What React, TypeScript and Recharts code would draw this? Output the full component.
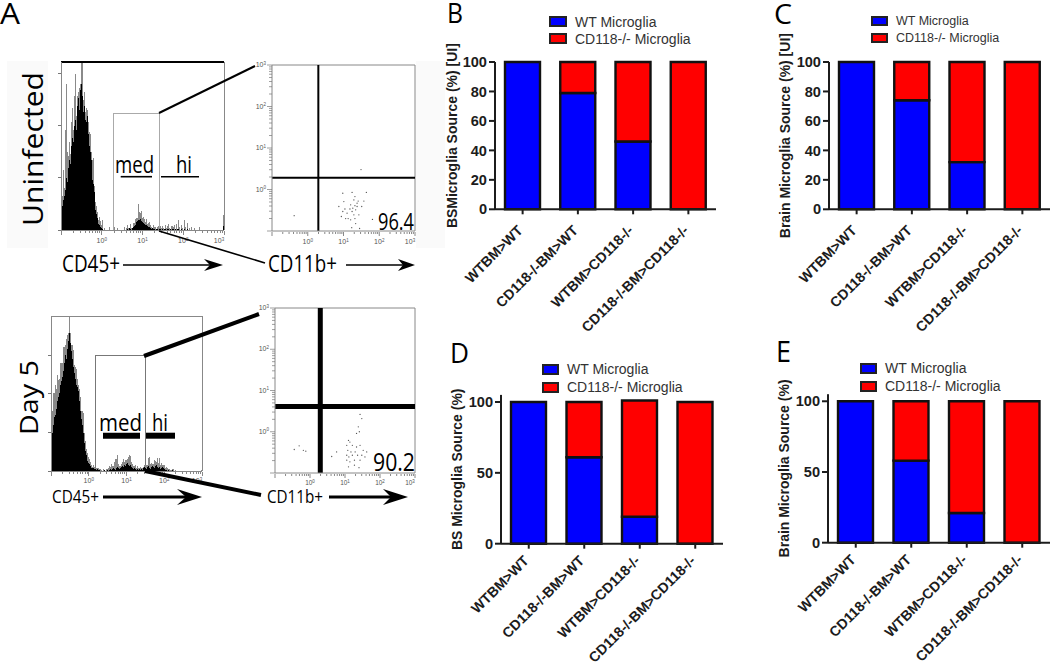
import { BarChart, Bar, ScatterChart, Scatter, XAxis, YAxis, Legend, ReferenceArea, ReferenceLine } from "recharts";

const BLUE = "#0000ff";
const RED = "#ff0000";
const INK = "#1c1c1c";
const SANS = "'Liberation Sans', Arial, sans-serif";
const HUMANIST = "'Open Sans', sans-serif";

const groups = ["WTBM>WT", "CD118-/-BM>WT", "WTBM>CD118-/-", "CD118-/-BM>CD118-/-"];

const wtB = [100, 79, 46, 0];
const koB = [0, 21, 54, 100];
const wtC = [100, 74, 32, 0];
const koC = [0, 26, 68, 100];
const wtD = [100, 61, 19, 0];
const koD = [0, 39, 82, 100];
const wtE = [100, 58, 21, 0];
const koE = [0, 42, 79, 100];

const ticks20 = [0, 20, 40, 60, 80, 100];
const ticks50 = [0, 50, 100];

// flow histograms, one value per channel
const histTopBlack = [
  0, 24, 30, 34, 40, 52, 48, 62, 70, 66,
  84, 92, 88, 104, 110, 100, 124, 132, 120, 140,
  146, 134, 118, 124, 110, 108, 114, 96, 84, 78,
  70, 50, 46, 38, 20, 16, 12, 6, 5, 3,
  2, 1, 0, 0, 0, 0, 0, 0, 0, 0,
  0, 0, 0, 0, 0, 0, 0, 0, 0, 0,
  0, 0, 0, 0, 0, 0, 1, 0, 2, 1,
  0, 2, 3, 4, 5, 8, 9, 10, 10, 11,
  9, 8, 7, 6, 5, 5, 4, 3, 3, 2,
  1, 2, 1, 1, 0, 1, 1, 0, 1, 1,
  0, 1, 0, 1, 1, 0, 1, 1, 0, 1,
  0, 1, 1, 0, 1, 0, 1, 1, 0, 0,
  1, 0, 0, 1, 0, 0, 1, 0, 0, 0,
  0, 0, 0, 0, 0, 0, 0, 0, 0, 0,
  0, 0, 0, 0, 0, 0, 0, 0, 0, 0,
  0, 0, 0, 0, 0, 0, 0, 0, 0, 0,
  0, 0, 4,
];
const histTopGray = [
  0, 10, 30, 8, 60, 94, 30, 12, 18, 10,
  24, 30, 12, 30, 46, 14, 10, 6, 22, 6,
  21, 34, 12, 14, 8, 14, 6, 12, 14, 18,
  8, 20, 26, 6, 8, 8, 6, 4, 8, 6,
  3, 9, 0, 2, 0, 0, 0, 0, 3, 0,
  0, 0, 0, 3, 0, 0, 2, 0, 0, 0,
  0, 0, 0, 3, 0, 2, 4, 2, 0, 5,
  2, 0, 4, 3, 6, 4, 3, 16, 8, 6,
  10, 4, 6, 5, 3, 6, 2, 4, 5, 3,
  2, 0, 4, 2, 3, 0, 2, 4, 1, 3,
  2, 3, 2, 0, 4, 2, 3, 5, 2, 0,
  4, 3, 2, 5, 0, 6, 0, 9, 3, 0,
  4, 2, 0, 9, 3, 0, 6, 0, 2, 0,
  3, 0, 0, 2, 0, 0, 0, 0, 3, 0,
  0, 0, 0, 0, 0, 0, 0, 0, 0, 0,
  0, 0, 0, 0, 0, 0, 0, 0, 0, 0,
  0, 0, 11,
];
const histDayBlack = [
  0, 38, 46, 54, 56, 62, 70, 74, 78, 86,
  90, 94, 100, 108, 116, 112, 122, 130, 138, 128,
  120, 112, 104, 98, 92, 86, 84, 80, 70, 60,
  52, 46, 38, 28, 20, 16, 10, 8, 7, 5,
  3, 3, 3, 2, 2, 1, 2, 1, 1, 0,
  0, 0, 0, 1, 0, 0, 1, 0, 1, 2,
  1, 2, 3, 2, 1, 3, 4, 3, 2, 3,
  4, 5, 4, 6, 5, 7, 8, 6, 5, 6,
  4, 3, 2, 3, 2, 1, 2, 1, 2, 1,
  2, 1, 3, 4, 3, 2, 4, 5, 3, 2,
  4, 5, 4, 3, 5, 6, 4, 3, 4, 2,
  3, 4, 3, 2, 1, 1, 0, 1, 0, 0,
  0, 1, 0, 0, 0, 0, 0, 0, 0, 0,
  0, 0, 0, 0, 0, 0, 0, 0, 0, 0,
  0, 0, 0, 0, 0, 0, 0, 0, 0, 0,
  0,
];
const histDayGray = [
  0, 22, 32, 24, 30, 20, 26, 17, 14, 22,
  18, 14, 24, 16, 10, 20, 14, 8, 16, 10,
  6, 14, 17, 8, 12, 16, 8, 6, 12, 14,
  8, 14, 20, 10, 10, 6, 8, 6, 5, 4,
  3, 1, 3, 2, 1, 2, 1, 2, 1, 2,
  1, 0, 2, 0, 0, 2, 1, 3, 4, 2,
  6, 3, 2, 7, 11, 9, 12, 4, 3, 2,
  3, 4, 8, 3, 6, 4, 4, 8, 11, 9,
  5, 4, 3, 2, 4, 2, 3, 2, 1, 3,
  1, 2, 1, 2, 3, 4, 2, 8, 11, 5,
  4, 2, 3, 8, 5, 3, 9, 5, 9, 4,
  5, 2, 3, 4, 2, 3, 3, 1, 2, 1,
  1, 1, 2, 0, 1, 0, 0, 0, 0, 0,
  0, 0, 0, 0, 0, 0, 0, 0, 0, 0,
  0, 0, 0, 0, 0, 0, 0, 0, 0, 0,
  1,
];

// dot plots, log10 of CD11b (x) and of the other marker (y)
const dotsTopX = [-0.38, 0.87, 0.98, 1.24, 1.32, 1.64, 1.49, 1.01, 1.29, 1.2, 1.38, 1.57, 1.51, 1.34, 1.24, 1.29, 1.32, 1.2, 1.06, 0.94, 1.1, 0.98, 1.43, 1.34, 1.23, 1.45, 1.81, 1.38, 1.26, 1.32, 1.18, 1.04, 1.41, 1.13];
const dotsTopY = [-0.63, -0.41, -0.09, -0.07, -0.17, -0.07, 0.48, -0.29, -0.25, -0.37, -0.33, -0.28, -0.41, -0.49, -0.53, -0.61, -0.7, -0.73, -0.7, -0.65, -0.57, -0.53, -0.61, -0.82, -0.92, -0.94, -0.72, -0.41, -0.45, -0.39, -0.47, -0.47, -0.28, -0.7];
const dotsDayX = [-0.45, -0.31, -0.19, -0.12, 0.62, 0.76, 1.43, 1.48, 1.38, 1.41, 1.33, 1.1, 1.14, 1.05, 1.21, 1.33, 1.43, 1.52, 1.62, 1.08, 1.17, 1.29, 1.05, 1.11, 1.21, 1.36, 1.48, 1.57, 1.05, 1.14, 1.27, 1.43, 1.1, 1.27, 1.4];
const dotsDayY = [-0.43, -0.34, -0.45, -0.47, -0.6, -0.49, 0.42, 0.32, 0.12, 0, -0.04, -0.21, -0.25, -0.33, -0.33, -0.37, -0.33, -0.45, -0.49, -0.45, -0.49, -0.49, -0.57, -0.61, -0.57, -0.57, -0.57, -0.61, -0.69, -0.73, -0.69, -0.69, -0.85, -0.81, -0.87];

const DECADES = [-1, 0, 1, 2, 3];
const logTicks = DECADES.flatMap((d) =>
  d === 3 ? [3] : [d, ...[2, 3, 4, 5, 6, 7, 8, 9].map((m) => d + Math.log10(m))]
);

const logXTick = (labelGap: number, labelSize: number) => ({ x, y, payload }: any) => {
  const decade = Number.isInteger(payload.value);
  const shift = payload.value === 3 ? -5 : 0;
  return (
    <g>
      <line x1={x} x2={x} y1={y + 1} y2={y + (decade ? 5 : 3)} stroke="#555" strokeWidth={0.7} />
      {decade && payload.value > -1 && (
        <text x={x + shift} y={y + labelGap} textAnchor="middle" fontFamily={SANS} fontSize={labelSize} fill="#555">
          10<tspan dy={-2.5} fontSize={4.5}>{payload.value}</tspan>
        </text>
      )}
    </g>
  );
};

const LogYTick = ({ x, y, payload }: any) => {
  const decade = Number.isInteger(payload.value);
  return (
    <g>
      <line x1={x - (decade ? 5 : 3)} x2={x} y1={y} y2={y} stroke="#777" strokeWidth={0.7} />
      {decade && payload.value > -1 && (
        <text x={x - 6} y={y + 2} textAnchor="end" fontFamily={SANS} fontSize={7} fill="#555">
          10<tspan dy={-2.5} fontSize={4.5}>{payload.value}</tspan>
        </text>
      )}
    </g>
  );
};

const CountTick = ({ x, y }: any) => <line x1={x - 3} x2={x} y1={y} y2={y} stroke="#555" strokeWidth={0.8} />;

const Histogram = ({ black, gray, left, right, top, bottom, countTicks, gateFrom, gateTo, gateTop, gateColor, topColor, topWidth, labelGap }: any) => {
  const bins = black.map((v: number, i: number) => ({ x: (i / (black.length - 1)) * 4 - 1, black: v, gray: gray[i] }));
  const maxCount = bottom - top;
  return (
    <div style={{ position: "absolute", left: left - 10, top: top - 2, shapeRendering: "crispEdges" }}>
      <BarChart
        width={right - left + 16}
        height={bottom - top + 24}
        data={bins}
        margin={{ top: 2, right: 6, left: 0, bottom: 0 }}
        barCategoryGap={0}
      >
        <XAxis dataKey="x" type="number" domain={[-1, 3]} ticks={logTicks} interval={0} height={22} tickSize={0} tickMargin={0} tick={logXTick(labelGap, 7)} stroke="#888" />
        <YAxis type="number" domain={[0, maxCount]} ticks={countTicks} interval={0} width={10} tickSize={0} tickMargin={0} tick={CountTick} stroke="#888" />
        <ReferenceArea x1={gateFrom} x2={gateTo} y1={0} y2={gateTop} fill="none" stroke={gateColor} strokeWidth={1} />
        <Bar dataKey="black" stackId="h" fill="#000" barSize={1} isAnimationActive={false} />
        <Bar dataKey="gray" stackId="h" fill="#8a8a8a" barSize={1} isAnimationActive={false} />
        <ReferenceLine x={3} stroke="#888" />
        <ReferenceLine y={maxCount} stroke={topColor} strokeWidth={topWidth} />
      </BarChart>
    </div>
  );
};

const Dot = ({ cx, cy }: any) => <circle cx={cx} cy={cy} r={0.65} fill="#555" />;

const DotPlot = ({ xs, ys, left, right, top, bottom, gateX, gateY, gateWidth, labelGap, labelSize }: any) => {
  const points = xs.map((x: number, i: number) => ({ x, y: ys[i] }));
  return (
    <div style={{ position: "absolute", left: left - 22, top: top - 4 }}>
      <ScatterChart width={right - left + 28} height={bottom - top + 26} margin={{ top: 4, right: 6, left: 0, bottom: 0 }}>
        <XAxis dataKey="x" type="number" domain={[-1, 3]} ticks={logTicks} interval={0} height={22} tickSize={0} tickMargin={0} tick={logXTick(labelGap, labelSize)} stroke="#888" />
        <YAxis dataKey="y" type="number" domain={[-1, 3]} ticks={logTicks} interval={0} width={22} tickSize={0} tickMargin={0} tick={LogYTick} stroke="#888" />
        <ReferenceLine x={3} stroke="#888" />
        <ReferenceLine y={3} stroke="#888" />
        <ReferenceLine x={gateX} stroke="#000" strokeWidth={gateWidth} />
        <ReferenceLine y={gateY} stroke="#000" strokeWidth={gateWidth} />
        <Scatter data={points} shape={Dot} isAnimationActive={false} />
      </ScatterChart>
    </div>
  );
};

const groupTick = (drop: number) => ({ x, y, payload }: any) => (
  <text
    x={x + 1}
    y={y + drop}
    transform={`rotate(-45 ${x + 1} ${y + drop})`}
    textAnchor="end"
    fontFamily={SANS}
    fontWeight={700}
    fontSize={14.2}
    fill={INK}
  >
    {payload.value}
  </text>
);

const SourceLegend = ({ payload, fontSize, swatchW, swatchH, pitch }: any) => (
  <div>
    {(payload || []).map((item: any) => (
      <div key={item.value} style={{ display: "flex", alignItems: "center", height: pitch, fontFamily: SANS, fontSize, color: "#333", whiteSpace: "nowrap" }}>
        <span style={{ width: swatchW, height: swatchH, boxSizing: "border-box", background: item.color, border: "2px solid #222", marginRight: 8 }} />
        {item.value}
      </div>
    ))}
  </div>
);

const StackedPanel = ({ wt, ko, label, ticks, domainMax, axisX, plotRight, plotTop, plotBottom, labelX, legendX, legendY, legendFont, swatchW, swatchH, pitch, originY, tickDrop, bottomRoom }: any) => {
  const rows = groups.map((name, i) => ({ name, wt: wt[i], ko: ko[i] }));
  const originX = axisX - 65;
  return (
    <div style={{ position: "absolute", left: originX, top: originY }}>
      <BarChart
        width={plotRight - originX}
        height={plotBottom - originY + bottomRoom}
        data={rows}
        margin={{ top: plotTop - originY, right: 0, left: 0, bottom: 0 }}
        barCategoryGap={0}
      >
        <XAxis dataKey="name" interval={0} height={bottomRoom} tickSize={5} tickMargin={0} tick={groupTick(tickDrop)} stroke={INK} strokeWidth={2} />
        <YAxis
          type="number"
          domain={[0, domainMax]}
          ticks={ticks}
          interval={0}
          width={65}
          tickSize={6}
          tickMargin={2}
          stroke={INK}
          strokeWidth={2}
          tick={{ fill: INK, fontFamily: SANS, fontWeight: 700, fontSize: 14.6 }}
          label={{
            value: label,
            angle: -90,
            position: "insideLeft",
            offset: labelX - originX,
            style: { textAnchor: "middle", fontFamily: SANS, fontWeight: 700, fontSize: 14, fill: INK },
          }}
        />
        <Legend
          layout="vertical"
          align="center"
          verticalAlign="middle"
          itemSorter={null}
          wrapperStyle={{ left: legendX - originX, top: legendY - originY, width: 170, height: pitch * 2 }}
          content={(props: any) => <SourceLegend {...props} fontSize={legendFont} swatchW={swatchW} swatchH={swatchH} pitch={pitch} />}
        />
        <Bar dataKey="wt" name="WT Microglia" stackId="s" fill={BLUE} stroke="#111" strokeWidth={2.4} barSize={35} isAnimationActive={false} />
        <Bar dataKey="ko" name="CD118-/- Microglia" stackId="s" fill={RED} stroke="#111" strokeWidth={2.4} barSize={35} isAnimationActive={false} />
      </BarChart>
    </div>
  );
};

const Arrow = ({ from, to, y, headFrom, notch, half, weight }: any) => (
  <g>
    <line x1={from} x2={notch} y1={y} y2={y} stroke="#000" strokeWidth={weight} />
    <polygon points={`${to},${y} ${headFrom},${y - half} ${notch},${y} ${headFrom},${y + half}`} fill="#000" />
  </g>
);

const Words = ({ x, y, size, length, children, turn }: any) => (
  <text
    x={x}
    y={y}
    fontFamily={HUMANIST}
    fontSize={size}
    fill="#000"
    textLength={length}
    lengthAdjust="spacingAndGlyphs"
    transform={turn ? `rotate(-90 ${x} ${y})` : undefined}
  >
    {children}
  </text>
);

const Overlay = () => (
  <svg width={1050} height={665} style={{ position: "absolute", left: 0, top: 0, pointerEvents: "none" }}>
    <Words x={0} y={24} size={30} length={20}>A</Words>
    <Words x={447} y={23} size={27} length={16}>B</Words>
    <Words x={774} y={24} size={27} length={18}>C</Words>
    <Words x={450} y={363} size={28} length={19}>D</Words>
    <Words x={776} y={362} size={30} length={15}>E</Words>

    <Words x={43} y={226} size={28} length={154} turn>Uninfected</Words>
    <Words x={38} y={435} size={26} length={75} turn>Day 5</Words>

    <Words x={115} y={173} size={24} length={39}>med</Words>
    <Words x={176} y={173} size={24} length={16}>hi</Words>
    <line x1={120.7} x2={152} y1={176.7} y2={176.7} stroke="#000" strokeWidth={1.6} />
    <line x1={161} x2={199} y1={176.7} y2={176.7} stroke="#000" strokeWidth={1.6} />

    <Words x={99} y={431} size={24} length={43}>med</Words>
    <Words x={152} y={431} size={24} length={16}>hi</Words>
    <line x1={103} x2={140} y1={435.7} y2={435.7} stroke="#000" strokeWidth={6} />
    <line x1={146} x2={175} y1={435.7} y2={435.7} stroke="#000" strokeWidth={6} />

    <Words x={378} y={230} size={23} length={36}>96.4</Words>
    <Words x={373} y={471} size={26} length={42}>90.2</Words>

    <line x1={159} y1={113} x2={255} y2={66} stroke="#000" strokeWidth={2} />
    <line x1={159} y1={231} x2={265} y2={263} stroke="#000" strokeWidth={1.6} />
    <line x1={144} y1={356} x2={259} y2={314} stroke="#000" strokeWidth={4} />
    <line x1={145} y1={471} x2={261} y2={495} stroke="#000" strokeWidth={4} />

    <Words x={62} y={272} size={23} length={58}>CD45+</Words>
    <Arrow from={123} to={223} y={265} headFrom={204} notch={210} half={6} weight={1.6} />
    <Words x={268} y={272} size={23} length={69}>CD11b+</Words>
    <Arrow from={346} to={415} y={265} headFrom={398} notch={403} half={6} weight={1.6} />

    <Words x={52} y={503} size={17.5} length={47}>CD45+</Words>
    <Arrow from={103} to={202} y={497} headFrom={177} notch={186} half={8} weight={3} />
    <Words x={267} y={503} size={17.5} length={56}>CD11b+</Words>
    <Arrow from={329} to={408} y={497} headFrom={383} notch={391} half={8} weight={3} />
  </svg>
);

export default function App() {
  return (
    <div style={{ position: "absolute", left: 0, top: 0, width: 1050, height: 665, overflow: "hidden", background: "#fff" }}>
      <div style={{ position: "absolute", left: 7, top: 61, width: 41, height: 187, background: "#fafafa" }} />
      <div style={{ position: "absolute", left: 416, top: 61, width: 29, height: 187, background: "#fafafa" }} />

      <Histogram black={histTopBlack} gray={histTopGray} left={61} right={224} top={62} bottom={230} labelGap={13}
        countTicks={[0, 53, 105, 157]} gateFrom={0.288} gateTo={1.405} gateTop={117} gateColor="#aaa" topColor="#000" topWidth={1.6} />
      <Histogram black={histDayBlack} gray={histDayGray} left={51} right={202} top={316} bottom={471} labelGap={12}
        countTicks={[0, 39, 78, 116]} gateFrom={0.192} gateTo={1.509} gateTop={116} gateColor="#777" topColor="#888" topWidth={1} />

      <DotPlot xs={dotsTopX} ys={dotsTopY} left={272} right={415} top={65} bottom={231} labelGap={13} labelSize={7} gateX={0.296} gateY={0.284} gateWidth={2} />
      <DotPlot xs={dotsDayX} ys={dotsDayY} left={275} right={415} top={308} bottom={473} labelGap={12} labelSize={6.5} gateX={0.294} gateY={0.61} gateWidth={5} />

      <StackedPanel wt={wtB} ko={koB} label="BSMicroglia Source (%) [UI]" ticks={ticks20} domainMax={100} tickDrop={17} bottomRoom={135}
        axisX={495} plotRight={716} plotTop={62} plotBottom={209.3} labelX={452} originY={0}
        legendX={549} legendY={13} legendFont={14} swatchW={18} swatchH={11} pitch={17} />
      <StackedPanel wt={wtC} ko={koC} label="Brain Microglia Source (%) [UI]" ticks={ticks20} domainMax={100} tickDrop={17} bottomRoom={135}
        axisX={829} plotRight={1050} plotTop={62} plotBottom={209.3} labelX={785} originY={0}
        legendX={871} legendY={12} legendFont={12.5} swatchW={17} swatchH={10} pitch={17} />
      <StackedPanel wt={wtD} ko={koD} label="BS Microglia Source (%)" ticks={ticks50} domainMax={105} tickDrop={13} bottomRoom={121}
        axisX={501} plotRight={723} plotTop={394.9} plotBottom={543.7} labelX={457} originY={335}
        legendX={542} legendY={360} legendFont={14} swatchW={17} swatchH={11} pitch={18} />
      <StackedPanel wt={wtE} ko={koE} label="Brain Microglia Source (%)" ticks={ticks50} domainMax={105} tickDrop={13} bottomRoom={122}
        axisX={828} plotRight={1050} plotTop={394.2} plotBottom={542.7} labelX={784} originY={335}
        legendX={860} legendY={359} legendFont={14} swatchW={17} swatchH={11} pitch={18} />

      <Overlay />
    </div>
  );
}
